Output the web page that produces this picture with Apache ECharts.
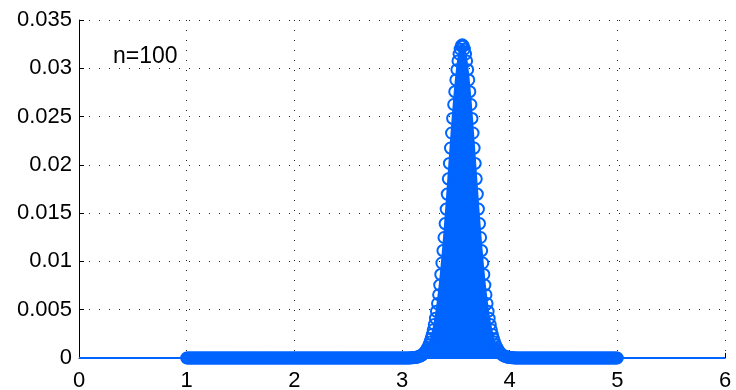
<!DOCTYPE html>
<html>
<head>
<meta charset="utf-8">
<script src="https://cdn.jsdelivr.net/npm/echarts@6/dist/echarts.min.js"></script>
<style>
  html, body { margin: 0; padding: 0; background: #fff; }
  #chart { width: 736px; height: 390px; }
</style>
</head>
<body>
<div id="chart"></div>
<script>
const xStep = 0.01;

// y values read off the plot, sampled every 0.01 on x
// 1.00 .. 3.04
const leftTailY = [
  0, 0, 0, 0, 0, 0, 0, 0, 0, 0,
  0, 0, 0, 0, 0, 0, 0, 0, 0, 0,
  0, 0, 0, 0, 0, 0, 0, 0, 0, 0,
  0, 0, 0, 0, 0, 0, 0, 0, 0, 0,
  0, 0, 0, 0, 0, 0, 0, 0, 0, 0,
  0, 0, 0, 0, 0, 0, 0, 0, 0, 0,
  0, 0, 0, 0, 0, 0, 0, 0, 0, 0,
  0, 0, 0, 0, 0, 0, 0, 0, 0, 0,
  0, 0, 0, 0, 0, 0, 0, 0, 0, 0,
  0, 0, 0, 0, 0, 0, 0, 0, 0, 0,
  0, 0, 0, 0, 0, 0, 0, 0, 0, 0,
  0, 0, 0, 0, 0, 0, 0, 0, 0, 0,
  0, 0, 0, 0, 0, 0, 0, 0, 0, 0,
  0, 0, 0, 0, 0, 0, 0, 0, 0, 0,
  0, 0, 0, 0, 0, 0, 0, 0, 0, 0,
  0, 0, 0, 0, 0, 0, 0, 0, 0, 0,
  0, 0, 0, 0, 0, 0, 0, 0, 0, 0,
  0, 0, 0, 0, 0, 0, 0, 0, 0, 0,
  0, 0, 0, 0, 0, 0, 0, 0, 0, 0,
  0, 0, 0, 0, 0, 0, 0, 0, 0, 0,
  0, 0, 0, 0, 0
];
const leftTailStart = 1.00;

// 3.05 .. 4.04
const peakY = [
  0.00001, 0.00001, 0.00001, 0.00002, 0.00002, 0.00003, 0.00004, 0.00005, 0.00007, 0.00010,
  0.00013, 0.00016, 0.00021, 0.00027, 0.00035, 0.00045, 0.00057, 0.00071, 0.00089, 0.00110,
  0.00135, 0.00166, 0.00201, 0.00243, 0.00292, 0.00347, 0.00411, 0.00483, 0.00564, 0.00655,
  0.00755, 0.00865, 0.00984, 0.01112, 0.01248, 0.01392, 0.01542, 0.01697, 0.01855, 0.02015,
  0.02174, 0.02330, 0.02481, 0.02625, 0.02758, 0.02879, 0.02986, 0.03076, 0.03148, 0.03200,
  0.03232, 0.03243, 0.03232, 0.03200, 0.03148, 0.03076, 0.02986, 0.02879, 0.02758, 0.02625,
  0.02481, 0.02330, 0.02174, 0.02015, 0.01855, 0.01697, 0.01542, 0.01392, 0.01248, 0.01112,
  0.00984, 0.00865, 0.00755, 0.00655, 0.00564, 0.00483, 0.00411, 0.00347, 0.00292, 0.00243,
  0.00201, 0.00166, 0.00135, 0.00110, 0.00089, 0.00071, 0.00057, 0.00045, 0.00035, 0.00027,
  0.00021, 0.00016, 0.00013, 0.00010, 0.00007, 0.00005, 0.00004, 0.00003, 0.00002, 0.00002
];
const peakStart = 3.05;

// 4.05 .. 5.00
const rightTailY = [
  0, 0, 0, 0, 0, 0, 0, 0, 0, 0,
  0, 0, 0, 0, 0, 0, 0, 0, 0, 0,
  0, 0, 0, 0, 0, 0, 0, 0, 0, 0,
  0, 0, 0, 0, 0, 0, 0, 0, 0, 0,
  0, 0, 0, 0, 0, 0, 0, 0, 0, 0,
  0, 0, 0, 0, 0, 0, 0, 0, 0, 0,
  0, 0, 0, 0, 0, 0, 0, 0, 0, 0,
  0, 0, 0, 0, 0, 0, 0, 0, 0, 0,
  0, 0, 0, 0, 0, 0, 0, 0, 0, 0,
  0, 0, 0, 0, 0, 0
];
const rightTailStart = 4.05;

// zero line across the whole axis
const zeroLineX = [0, 6];
const zeroLineY = [0, 0];

const label = 'n=100';
const blue = '#0064ff';
const font = 'Liberation Sans, Arial, sans-serif';

const toPairs = (ys, start) => ys.map((y, i) => [+(start + i * xStep).toFixed(2), y]);

const points = [
  ...toPairs(leftTailY, leftTailStart),
  ...toPairs(peakY, peakStart),
  ...toPairs(rightTailY, rightTailStart)
];

const chart = echarts.init(document.getElementById('chart'));

const gridLine = {
  show: true,
  lineStyle: { color: '#222', type: [1, 9], width: 1 }
};

chart.setOption({
  animation: false,
  textStyle: { fontFamily: font },
  title: {
    text: label,
    left: 108,
    top: 40,
    textStyle: { fontSize: 23, fontWeight: 'normal', color: '#000', fontFamily: font }
  },
  grid: { left: 79, right: 11, top: 20, bottom: 32, outerBoundsMode: 'none', containLabel: false },
  xAxis: {
    type: 'value',
    min: 0,
    max: 6,
    interval: 1,
    axisLine: { show: true, onZero: false, lineStyle: { color: '#000', width: 1 } },
    axisTick: { show: true, inside: true, length: 5, lineStyle: { color: '#000' } },
    axisLabel: { color: '#000', fontSize: 22, margin: 12 },
    splitLine: gridLine
  },
  yAxis: {
    type: 'value',
    min: 0,
    max: 0.035,
    interval: 0.005,
    axisLine: { show: true, lineStyle: { color: '#000', width: 1 } },
    axisTick: { show: true, inside: true, length: 5, lineStyle: { color: '#000' } },
    axisLabel: { color: '#000', fontSize: 22, margin: 7 },
    splitLine: gridLine
  },
  series: [
    {
      type: 'line',
      data: zeroLineX.map((x, i) => [x, zeroLineY[i]]),
      showSymbol: false,
      lineStyle: { color: blue, width: 2 },
      z: 2
    },
    {
      type: 'line',
      data: points,
      symbol: 'circle',
      symbolSize: 11,
      showAllSymbol: true,
      lineStyle: { color: blue, width: 2 },
      areaStyle: { color: blue, opacity: 1 },
      itemStyle: { color: 'transparent', borderColor: blue, borderWidth: 2 },
      z: 3
    }
  ]
});
</script>
</body>
</html>
